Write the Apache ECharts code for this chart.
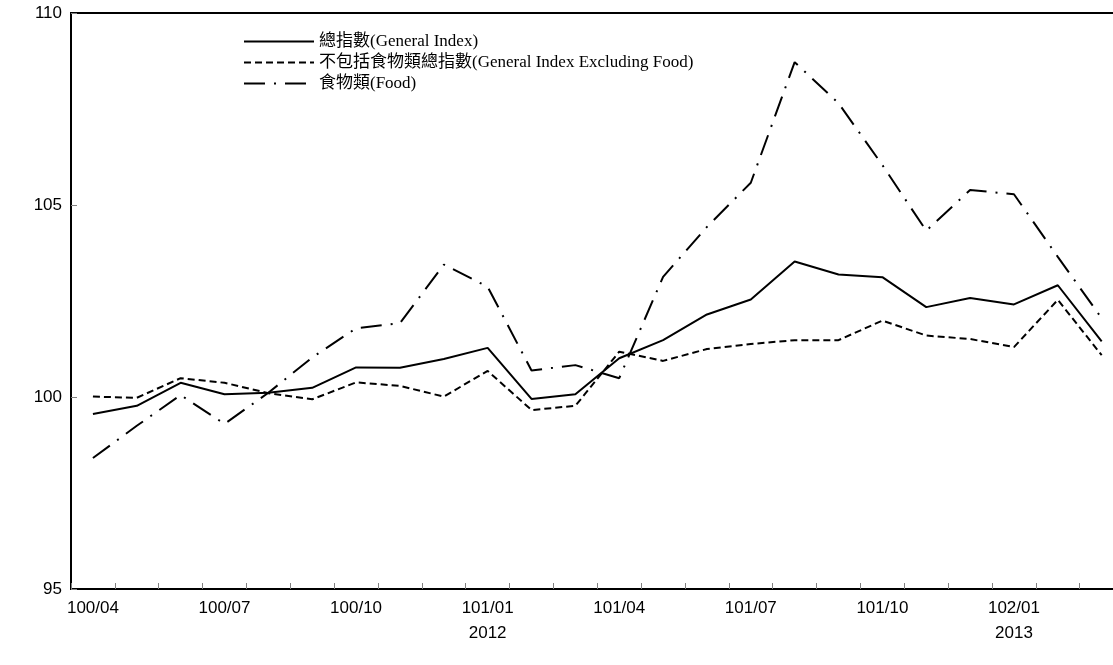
<!DOCTYPE html>
<html><head><meta charset="utf-8">
<script src="https://cdn.jsdelivr.net/npm/echarts@6/dist/echarts.min.js"></script>
<style>html,body{margin:0;padding:0;background:#fff}#c{width:1113px;height:665px}</style>
</head><body><div id="c"></div><script>
const categories = ['100/04','100/05','100/06','100/07','100/08','100/09','100/10','100/11','100/12',
  '101/01','101/02','101/03','101/04','101/05','101/06','101/07','101/08','101/09','101/10','101/11','101/12',
  '102/01','102/02','102/03'];
const yearNotes = {'101/01':'2012','102/01':'2013'};
const seriesNames = ['總指數(General Index)','不包括食物類總指數(General Index Excluding Food)','食物類(Food)'];
const generalIndex = [99.56,99.77,100.37,100.07,100.11,100.24,100.77,100.76,100.99,101.28,99.95,100.07,
  101.01,101.48,102.15,102.54,103.53,103.19,103.12,102.34,102.58,102.41,102.91,101.45];
const exclFood = [100.01,99.98,100.49,100.37,100.10,99.94,100.38,100.29,100.01,100.68,99.66,99.77,
  101.18,100.94,101.25,101.38,101.48,101.48,101.99,101.60,101.51,101.30,102.53,101.09];
const food = [98.41,99.25,100.05,99.30,100.11,101.03,101.79,101.92,103.45,102.87,100.69,100.83,
  100.49,103.13,104.43,105.58,108.72,107.65,106.04,104.33,105.39,105.28,103.65,102.05];
const yTicks = {min:95, max:110, step:5};

const chart = echarts.init(document.getElementById('c'));
const lineW = 2;
chart.setOption({
  animation:false,
  backgroundColor:'#fff',
  grid:{left:71, top:13, width:1052.6, height:576, outerBoundsMode:'none', containLabel:false,
    show:true, borderColor:'#000', borderWidth:2, backgroundColor:'transparent'},
  legend:{
    orient:'vertical', left:243, top:33, padding:0,
    itemWidth:70, itemHeight:10, itemGap:4,
    itemStyle:{opacity:0},
    textStyle:{fontFamily:'"Liberation Serif","Noto Sans CJK TC",serif', fontSize:17, color:'#000', lineHeight:17},
    data:seriesNames
  },
  xAxis:{
    type:'category', data:categories, boundaryGap:true,
    axisLine:{show:true, lineStyle:{color:'#000', width:2}},
    axisTick:{show:true, inside:true, interval:0, length:6, lineStyle:{color:'#808080', width:1}},
    axisLabel:{interval:2, margin:7, fontFamily:'"Liberation Sans",Arial,sans-serif', fontSize:17, color:'#000', lineHeight:25,
      formatter:v => yearNotes[v] ? v + '\n' + yearNotes[v] : v},
    splitLine:{show:false}
  },
  yAxis:{
    type:'value', min:yTicks.min, max:yTicks.max, interval:yTicks.step,
    axisLine:{show:true, lineStyle:{color:'#000', width:2}},
    axisTick:{show:true, inside:true, length:6, lineStyle:{color:'#808080', width:1}},
    axisLabel:{margin:9, fontFamily:'"Liberation Sans",Arial,sans-serif', fontSize:17, color:'#000'},
    splitLine:{show:false}
  },
  series:[
    {name:seriesNames[0], type:'line', data:generalIndex, symbol:'none',
      lineStyle:{color:'#000', width:lineW, type:'solid'}, itemStyle:{color:'#000'}},
    {name:seriesNames[1], type:'line', data:exclFood, symbol:'none',
      lineStyle:{color:'#000', width:lineW, type:[7,4]}, itemStyle:{color:'#000'}},
    {name:seriesNames[2], type:'line', data:food, symbol:'none',
      lineStyle:{color:'#000', width:lineW, type:[21,9,2,9]}, itemStyle:{color:'#000'}}
  ]
});
</script></body></html>
